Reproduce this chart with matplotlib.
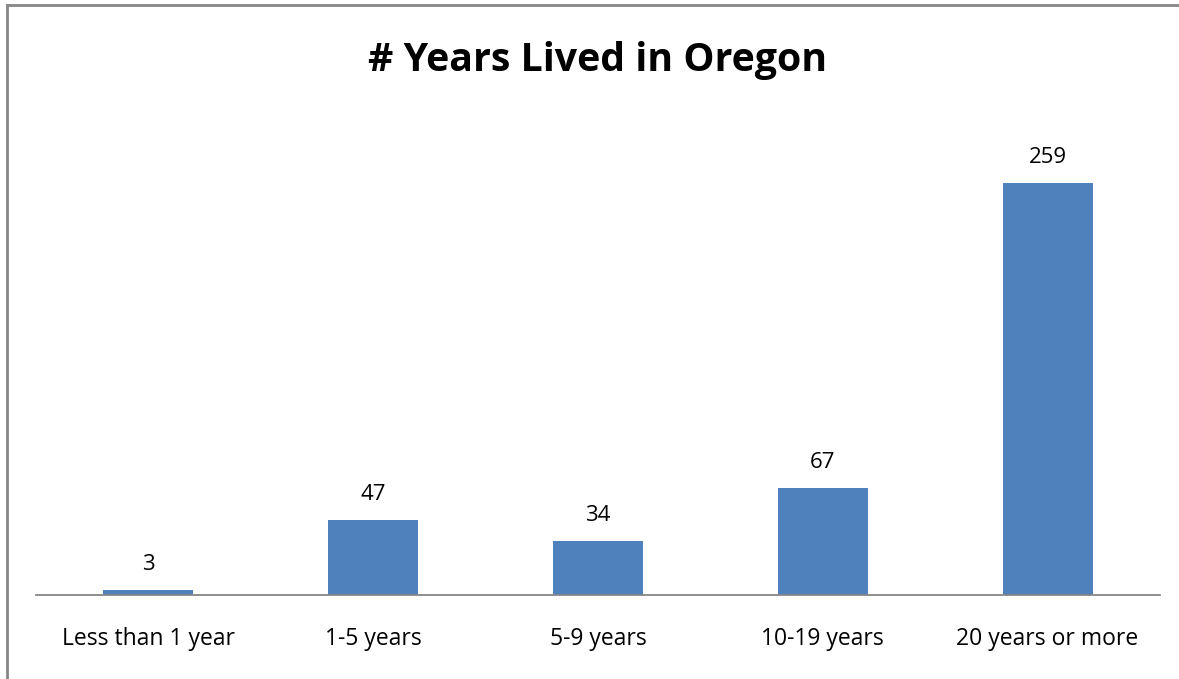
import matplotlib.pyplot as plt
from matplotlib.lines import Line2D

categories = ["Less than 1 year", "1-5 years", "5-9 years", "10-19 years", "20 years or more"]
counts = [3, 47, 34, 67, 259]

BAR = "#4F81BD"
GRID = "#868686"

plt.rcParams["font.family"] = ["Open Sans", "DejaVu Sans"]

W, H = 1179, 679
fig = plt.figure(figsize=(W / 100, H / 100), dpi=100)
ax = fig.add_axes([36 / W, (H - 595) / H, (1160 - 36) / W, (595 - 118) / H])

x = range(len(categories))
bars = ax.bar(x, counts, width=0.4, color=BAR, zorder=2)
for xi, v in zip(x, counts):
    ax.annotate(str(v), (xi, v), xytext=(0, 18.5), textcoords="offset points",
                ha="center", va="center", fontsize=16)

ax.set_xlim(-0.5, len(categories) - 0.5)
ax.set_ylim(0, 300)
ax.set_xticks(list(x))
ax.set_xticklabels(categories, fontsize=16.5)
ax.tick_params(axis="x", length=0, pad=23)
ax.set_yticks([])
for side in ("top", "left", "right"):
    ax.spines[side].set_visible(False)
ax.spines["bottom"].set_color(GRID)
ax.spines["bottom"].set_linewidth(1.3)

fig.text(598 / W, 1 - 60 / H, "# Years Lived in Oregon", ha="center", va="center",
         fontsize=28.3, fontweight="bold")

# outer chart frame (top and left edges)
fig.add_artist(Line2D([7 / W, 7 / W], [0, 1 - 5 / H], transform=fig.transFigure,
                      color=GRID, lw=2))
fig.add_artist(Line2D([7 / W, 1], [1 - 5 / H, 1 - 5 / H], transform=fig.transFigure,
                      color=GRID, lw=2))

fig.savefig("out.png", dpi=100)
